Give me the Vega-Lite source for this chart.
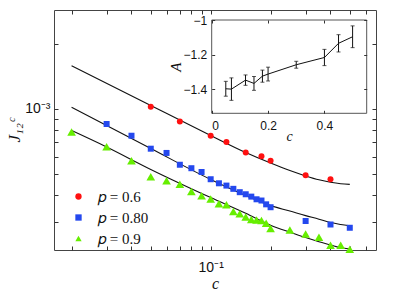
{
  "$schema": "https://vega.github.io/schema/vega-lite/v6.json",
  "width": 322,
  "height": 240,
  "autosize": "none",
  "padding": {"left": 54, "top": 10, "right": 39, "bottom": 45},
  "background": "white",
  "config": {
    "view": {"stroke": "#444", "strokeWidth": 1},
    "axis": {"grid": false, "domain": false, "tickColor": "#333", "labelColor": "#111", "titleColor": "#111", "titleFontWeight": "normal"}
  },
  "datasets": {
    "pts": [
      {"c": 0.05, "J": 1.025e-3, "p": "𝑝 = 0.6"},
      {"c": 0.07, "J": 8.75e-4, "p": "𝑝 = 0.6"},
      {"c": 0.1, "J": 7.52e-4, "p": "𝑝 = 0.6"},
      {"c": 0.12, "J": 7.03e-4, "p": "𝑝 = 0.6"},
      {"c": 0.15, "J": 6.29e-4, "p": "𝑝 = 0.6"},
      {"c": 0.18, "J": 6.05e-4, "p": "𝑝 = 0.6"},
      {"c": 0.2, "J": 5.76e-4, "p": "𝑝 = 0.6"},
      {"c": 0.3, "J": 4.93e-4, "p": "𝑝 = 0.6"},
      {"c": 0.4, "J": 4.73e-4, "p": "𝑝 = 0.6"},
      {"c": 0.03, "J": 8.52e-4, "p": "𝑝 = 0.80"},
      {"c": 0.04, "J": 7.52e-4, "p": "𝑝 = 0.80"},
      {"c": 0.05, "J": 6.55e-4, "p": "𝑝 = 0.80"},
      {"c": 0.06, "J": 6.26e-4, "p": "𝑝 = 0.80"},
      {"c": 0.07, "J": 5.52e-4, "p": "𝑝 = 0.80"},
      {"c": 0.08, "J": 5.32e-4, "p": "𝑝 = 0.80"},
      {"c": 0.09, "J": 5.11e-4, "p": "𝑝 = 0.80"},
      {"c": 0.1, "J": 4.73e-4, "p": "𝑝 = 0.80"},
      {"c": 0.11, "J": 4.53e-4, "p": "𝑝 = 0.80"},
      {"c": 0.12, "J": 4.42e-4, "p": "𝑝 = 0.80"},
      {"c": 0.13, "J": 4.27e-4, "p": "𝑝 = 0.80"},
      {"c": 0.14, "J": 4.12e-4, "p": "𝑝 = 0.80"},
      {"c": 0.15, "J": 4.03e-4, "p": "𝑝 = 0.80"},
      {"c": 0.16, "J": 3.93e-4, "p": "𝑝 = 0.80"},
      {"c": 0.17, "J": 3.82e-4, "p": "𝑝 = 0.80"},
      {"c": 0.18, "J": 3.77e-4, "p": "𝑝 = 0.80"},
      {"c": 0.19, "J": 3.62e-4, "p": "𝑝 = 0.80"},
      {"c": 0.2, "J": 3.51e-4, "p": "𝑝 = 0.80"},
      {"c": 0.3, "J": 3.03e-4, "p": "𝑝 = 0.80"},
      {"c": 0.4, "J": 2.92e-4, "p": "𝑝 = 0.80"},
      {"c": 0.5, "J": 2.82e-4, "p": "𝑝 = 0.80"},
      {"c": 0.02, "J": 7.82e-4, "p": "𝑝 = 0.9"},
      {"c": 0.03, "J": 6.68e-4, "p": "𝑝 = 0.9"},
      {"c": 0.04, "J": 5.76e-4, "p": "𝑝 = 0.9"},
      {"c": 0.05, "J": 4.86e-4, "p": "𝑝 = 0.9"},
      {"c": 0.06, "J": 4.65e-4, "p": "𝑝 = 0.9"},
      {"c": 0.07, "J": 4.48e-4, "p": "𝑝 = 0.9"},
      {"c": 0.08, "J": 4.15e-4, "p": "𝑝 = 0.9"},
      {"c": 0.09, "J": 3.97e-4, "p": "𝑝 = 0.9"},
      {"c": 0.1, "J": 3.83e-4, "p": "𝑝 = 0.9"},
      {"c": 0.11, "J": 3.64e-4, "p": "𝑝 = 0.9"},
      {"c": 0.12, "J": 3.60e-4, "p": "𝑝 = 0.9"},
      {"c": 0.13, "J": 3.35e-4, "p": "𝑝 = 0.9"},
      {"c": 0.14, "J": 3.27e-4, "p": "𝑝 = 0.9"},
      {"c": 0.15, "J": 3.16e-4, "p": "𝑝 = 0.9"},
      {"c": 0.16, "J": 3.08e-4, "p": "𝑝 = 0.9"},
      {"c": 0.17, "J": 3.06e-4, "p": "𝑝 = 0.9"},
      {"c": 0.18, "J": 3.05e-4, "p": "𝑝 = 0.9"},
      {"c": 0.19, "J": 2.96e-4, "p": "𝑝 = 0.9"},
      {"c": 0.2, "J": 2.80e-4, "p": "𝑝 = 0.9"},
      {"c": 0.25, "J": 2.75e-4, "p": "𝑝 = 0.9"},
      {"c": 0.3, "J": 2.64e-4, "p": "𝑝 = 0.9"},
      {"c": 0.35, "J": 2.55e-4, "p": "𝑝 = 0.9"},
      {"c": 0.4, "J": 2.34e-4, "p": "𝑝 = 0.9"},
      {"c": 0.45, "J": 2.34e-4, "p": "𝑝 = 0.9"},
      {"c": 0.5, "J": 2.24e-4, "p": "𝑝 = 0.9"}
    ],
    "fit": [
      {"c": 0.02, "J": 1.587e-3, "p": "a"},
      {"c": 0.05, "J": 1.038e-3, "p": "a"},
      {"c": 0.1, "J": 7.54e-4, "p": "a"},
      {"c": 0.15, "J": 6.29e-4, "p": "a"},
      {"c": 0.2, "J": 5.62e-4, "p": "a"},
      {"c": 0.25, "J": 5.19e-4, "p": "a"},
      {"c": 0.3, "J": 4.90e-4, "p": "a"},
      {"c": 0.35, "J": 4.70e-4, "p": "a"},
      {"c": 0.4, "J": 4.58e-4, "p": "a"},
      {"c": 0.45, "J": 4.51e-4, "p": "a"},
      {"c": 0.5, "J": 4.48e-4, "p": "a"},
      {"c": 0.02, "J": 1.018e-3, "p": "b"},
      {"c": 0.05, "J": 6.56e-4, "p": "b"},
      {"c": 0.1, "J": 4.72e-4, "p": "b"},
      {"c": 0.15, "J": 3.98e-4, "p": "b"},
      {"c": 0.2, "J": 3.57e-4, "p": "b"},
      {"c": 0.25, "J": 3.37e-4, "p": "b"},
      {"c": 0.3, "J": 3.21e-4, "p": "b"},
      {"c": 0.35, "J": 3.09e-4, "p": "b"},
      {"c": 0.4, "J": 2.98e-4, "p": "b"},
      {"c": 0.45, "J": 2.92e-4, "p": "b"},
      {"c": 0.5, "J": 2.88e-4, "p": "b"},
      {"c": 0.02, "J": 7.95e-4, "p": "g"},
      {"c": 0.03, "J": 6.67e-4, "p": "g"},
      {"c": 0.05, "J": 5.25e-4, "p": "g"},
      {"c": 0.1, "J": 3.89e-4, "p": "g"},
      {"c": 0.15, "J": 3.29e-4, "p": "g"},
      {"c": 0.2, "J": 2.90e-4, "p": "g"},
      {"c": 0.25, "J": 2.69e-4, "p": "g"},
      {"c": 0.3, "J": 2.54e-4, "p": "g"},
      {"c": 0.35, "J": 2.43e-4, "p": "g"},
      {"c": 0.4, "J": 2.35e-4, "p": "g"},
      {"c": 0.45, "J": 2.28e-4, "p": "g"},
      {"c": 0.5, "J": 2.25e-4, "p": "g"}
    ],
    "inset": [
      {"c": 0.05, "A": -1.398, "err": 0.043},
      {"c": 0.07, "A": -1.4, "err": 0.065},
      {"c": 0.12, "A": -1.348, "err": 0.03},
      {"c": 0.15, "A": -1.367, "err": 0.04},
      {"c": 0.18, "A": -1.325, "err": 0.035},
      {"c": 0.2, "A": -1.313, "err": 0.04},
      {"c": 0.3, "A": -1.259, "err": 0.02},
      {"c": 0.4, "A": -1.217, "err": 0.047},
      {"c": 0.45, "A": -1.135, "err": 0.05},
      {"c": 0.5, "A": -1.097, "err": 0.063}
    ]
  },
  "layer": [
    {
      "layer": [
        {
          "data": {"name": "fit"},
          "mark": {"type": "line", "color": "#111", "strokeWidth": 1.1, "interpolate": "monotone"},
          "encoding": {
            "x": {"field": "c", "type": "quantitative", "scale": {"type": "log", "domain": [0.01632, 0.6772], "nice": false}, "axis": null},
            "y": {"field": "J", "type": "quantitative", "scale": {"type": "log", "domain": [2.225e-4, 2.872e-3], "nice": false}, "axis": null},
            "detail": {"field": "p"}
          }
        },
        {
          "data": {"name": "pts"},
          "mark": {"type": "point", "filled": true, "opacity": 1, "strokeWidth": 0},
          "encoding": {
            "x": {"field": "c", "type": "quantitative", "scale": {"type": "log", "domain": [0.01632, 0.6772], "nice": false},
              "axis": {"orient": "bottom", "values": [0.02, 0.03, 0.04, 0.05, 0.06, 0.07, 0.08, 0.09, 0.1, 0.2, 0.3, 0.4, 0.5, 0.6], "labelExpr": "datum.value == 0.1 ? '10⁻¹' : ''", "tickSize": -4, "labelPadding": 14, "labelFont": "Liberation Sans", "labelFontSize": 14, "title": "c", "titleFont": "Liberation Serif", "titleFontStyle": "italic", "titleFontSize": 16, "titlePadding": 1}},
            "y": {"field": "J", "type": "quantitative", "scale": {"type": "log", "domain": [2.225e-4, 2.872e-3], "nice": false},
              "axis": {"orient": "left", "values": [0.0003, 0.0004, 0.0005, 0.0006, 0.0007, 0.0008, 0.0009, 0.001, 0.002], "labelExpr": "datum.value == 0.001 ? '10⁻³' : ''", "tickSize": -4, "labelPadding": 8, "labelFont": "Liberation Sans", "labelFontSize": 14, "title": "J₁₂ᶜ", "titleFont": "Liberation Serif", "titleFontStyle": "italic", "titleFontSize": 17, "titlePadding": 1}},
            "color": {"field": "p", "type": "nominal", "scale": {"domain": ["𝑝 = 0.6", "𝑝 = 0.80", "𝑝 = 0.9"], "range": ["#ff1010", "#2448ee", "#66ee00"]},
              "legend": {"orient": "none", "legendX": 17, "legendY": 179, "title": null, "padding": 0, "rowPadding": 5, "symbolSize": 40, "labelOffset": 12, "labelFont": "Liberation Serif", "labelFontSize": 15, "labelColor": "#111", "symbolStrokeWidth": 0}},
            "shape": {"field": "p", "type": "nominal", "scale": {"domain": ["𝑝 = 0.6", "𝑝 = 0.80", "𝑝 = 0.9"], "range": ["circle", "square", "triangle-up"]},
              "legend": {"orient": "none", "legendX": 17, "legendY": 179, "title": null, "padding": 0, "rowPadding": 5, "symbolSize": 40, "labelOffset": 12, "labelFont": "Liberation Serif", "labelFontSize": 15, "labelColor": "#111", "symbolStrokeWidth": 0}},
            "size": {"condition": {"test": "datum.p == '𝑝 = 0.9'", "value": 75}, "value": 36}
          }
        },
        {
          "data": {"name": "pts"},
          "mark": {"type": "point", "opacity": 0},
          "encoding": {
            "x": {"field": "c", "type": "quantitative", "scale": {"type": "log", "domain": [0.01632, 0.6772], "nice": false},
              "axis": {"orient": "top", "values": [0.02, 0.03, 0.04, 0.05, 0.06, 0.07, 0.08, 0.09, 0.1, 0.2, 0.3, 0.4, 0.5, 0.6], "labels": false, "tickSize": -4, "title": null}},
            "y": {"field": "J", "type": "quantitative", "scale": {"type": "log", "domain": [2.225e-4, 2.872e-3], "nice": false},
              "axis": {"orient": "right", "values": [0.0003, 0.0004, 0.0005, 0.0006, 0.0007, 0.0008, 0.0009, 0.001, 0.002], "labels": false, "tickSize": -4, "title": null}}
          }
        }
      ],
      "resolve": {"axis": {"x": "independent", "y": "independent"}}
    },
    {
      "layer": [
        {
          "data": {"values": [{}]},
          "mark": {"type": "rect", "fill": "white", "stroke": "#555", "strokeWidth": 1},
          "encoding": {
            "x": {"datum": 0, "type": "quantitative", "scale": {"domain": [0, 0.55], "range": [157.7, 312.7], "nice": false, "zero": false}, "axis": null},
            "x2": {"datum": 0.55},
            "y": {"datum": -1.54, "type": "quantitative", "scale": {"domain": [-1.54, -1], "range": [103.3, 10], "nice": false, "zero": false}, "axis": null},
            "y2": {"datum": -1}
          }
        },
        {
          "data": {"name": "inset"},
          "mark": {"type": "line", "color": "#111", "strokeWidth": 1},
          "encoding": {
            "x": {"field": "c", "type": "quantitative", "scale": {"domain": [0, 0.55], "range": [157.7, 312.7], "nice": false, "zero": false},
              "axis": {"orient": "bottom", "offset": -136.7, "zindex": 1, "values": [0, 0.2, 0.4], "format": ".1~f", "tickSize": -3, "labelPadding": 10.5, "labelFont": "Liberation Sans", "labelFontSize": 12, "title": "c", "titleFont": "Liberation Serif", "titleFontStyle": "italic", "titleFontSize": 14, "titlePadding": -2}},
            "y": {"field": "A", "type": "quantitative", "scale": {"domain": [-1.54, -1], "range": [103.3, 10], "nice": false, "zero": false},
              "axis": {"orient": "left", "offset": -157.7, "zindex": 1, "values": [-1.4, -1.2, -1], "format": ".1~f", "tickSize": -3, "labelPadding": 8, "labelFont": "Liberation Sans", "labelFontSize": 12, "title": "A", "titleFont": "Liberation Serif", "titleFontStyle": "italic", "titleFontSize": 15, "titlePadding": 0}}
          }
        },
        {
          "data": {"name": "inset"},
          "mark": {"type": "errorbar", "color": "#111", "ticks": {"size": 4}},
          "encoding": {
            "x": {"field": "c", "type": "quantitative", "scale": {"domain": [0, 0.55], "range": [157.7, 312.7], "nice": false, "zero": false}, "axis": null},
            "y": {"field": "A", "type": "quantitative", "scale": {"domain": [-1.54, -1], "range": [103.3, 10], "nice": false, "zero": false}, "axis": null},
            "yError": {"field": "err"}
          }
        },
        {
          "data": {"name": "inset"},
          "mark": {"type": "point", "opacity": 0},
          "encoding": {
            "x": {"field": "c", "type": "quantitative", "scale": {"domain": [0, 0.55], "range": [157.7, 312.7], "nice": false, "zero": false},
              "axis": {"orient": "top", "offset": -10, "zindex": 1, "values": [0, 0.2, 0.4], "labels": false, "tickSize": -3, "title": null}},
            "y": {"field": "A", "type": "quantitative", "scale": {"domain": [-1.54, -1], "range": [103.3, 10], "nice": false, "zero": false},
              "axis": {"orient": "right", "offset": -9.3, "zindex": 1, "values": [-1.4, -1.2, -1], "labels": false, "tickSize": -3, "title": null}}
          }
        }
      ],
      "resolve": {"axis": {"x": "independent", "y": "independent"}}
    }
  ],
  "resolve": {"scale": {"x": "independent", "y": "independent"}, "axis": {"x": "independent", "y": "independent"}}
}
